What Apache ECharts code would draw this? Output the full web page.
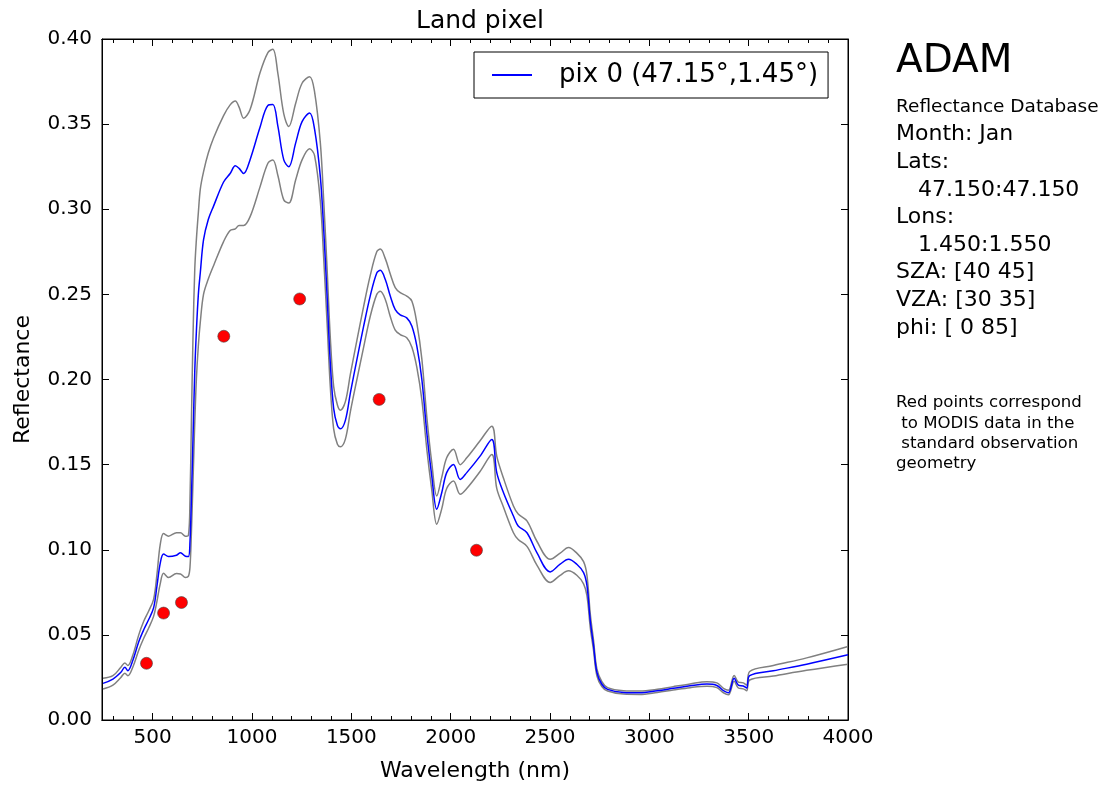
<!DOCTYPE html>
<html>
<head>
<meta charset="utf-8">
<script src="https://cdn.jsdelivr.net/npm/echarts@6/dist/echarts.min.js"></script>
<style>
html,body{margin:0;padding:0;background:#fff;}
#chart{width:1101px;height:787px;}
</style>
</head>
<body>
<div id="chart"></div>
<script>
// ---- data ----
const wavelength = [250,300,340,360,375,400,430,455,480,505,522,538,555,580,620,640,665,680,688,695,703,712,720,730,740,756,780,807,857,890,916,935,958,990,1040,1080,1105,1130,1160,1185,1220,1252,1290,1315,1344,1361,1378,1394,1411,1430,1445,1470,1495,1528,1562,1595,1628,1646,1671,1696,1721,1746,1779,1805,1830,1855,1880,1905,1930,1955,1980,2014,2048,2081,2148,2207,2232,2266,2316,2340,2384,2434,2501,2551,2593,2635,2669,2686,2703,2719,2736,2761,2790,2870,2950,3040,3120,3205,3290,3340,3373,3398,3427,3448,3473,3490,3505,3624,3792,4000];
const meanRefl = [0.0215,0.024,0.028,0.031,0.029,0.035,0.046,0.053,0.059,0.066,0.079,0.092,0.0975,0.096,0.0968,0.0983,0.0962,0.096,0.105,0.13,0.165,0.205,0.228,0.25,0.263,0.282,0.294,0.302,0.316,0.321,0.3255,0.324,0.321,0.329,0.348,0.361,0.3615,0.349,0.329,0.325,0.339,0.3515,0.3565,0.347,0.319,0.288,0.249,0.21,0.183,0.173,0.171,0.176,0.192,0.2117,0.2313,0.249,0.2626,0.2641,0.2587,0.249,0.241,0.238,0.2362,0.2313,0.2195,0.2,0.1687,0.1433,0.1238,0.1335,0.1453,0.1501,0.1413,0.1453,0.155,0.1648,0.1453,0.1335,0.1198,0.114,0.110,0.0983,0.087,0.0915,0.0944,0.0915,0.0866,0.079,0.058,0.044,0.028,0.021,0.018,0.0162,0.016,0.0172,0.0186,0.0201,0.0211,0.0203,0.0172,0.016,0.0245,0.0205,0.02,0.0188,0.026,0.0289,0.0328,0.0383];
const upperRefl = [0.0245,0.026,0.031,0.0335,0.032,0.038,0.050,0.058,0.064,0.071,0.086,0.103,0.1095,0.108,0.110,0.110,0.108,0.1085,0.13,0.175,0.225,0.265,0.282,0.298,0.312,0.322,0.333,0.342,0.355,0.3613,0.3636,0.360,0.3535,0.3584,0.380,0.392,0.394,0.380,0.356,0.3486,0.3623,0.374,0.3779,0.369,0.339,0.305,0.265,0.225,0.196,0.185,0.182,0.187,0.203,0.223,0.243,0.261,0.275,0.2766,0.271,0.262,0.254,0.251,0.249,0.246,0.233,0.212,0.178,0.151,0.1316,0.1425,0.154,0.159,0.150,0.154,0.164,0.1726,0.155,0.142,0.1257,0.121,0.117,0.105,0.0944,0.098,0.1013,0.098,0.093,0.085,0.062,0.047,0.030,0.0225,0.019,0.0172,0.017,0.018,0.0196,0.0212,0.0225,0.0218,0.0186,0.0175,0.0262,0.0222,0.0218,0.0205,0.0285,0.032,0.0365,0.0432];
const lowerRefl = [0.0182,0.0205,0.025,0.0275,0.026,0.031,0.041,0.048,0.054,0.061,0.070,0.080,0.0862,0.0837,0.086,0.0858,0.0837,0.0845,0.090,0.11,0.14,0.175,0.20,0.22,0.234,0.25,0.259,0.267,0.281,0.2875,0.2885,0.2905,0.2905,0.2955,0.313,0.327,0.329,0.320,0.3055,0.3036,0.3173,0.329,0.3355,0.3315,0.3045,0.271,0.233,0.196,0.171,0.162,0.1605,0.165,0.181,0.200,0.219,0.237,0.250,0.2518,0.247,0.237,0.229,0.2264,0.2245,0.219,0.207,0.188,0.159,0.135,0.115,0.124,0.136,0.1404,0.1326,0.136,0.146,0.156,0.136,0.125,0.110,0.106,0.102,0.091,0.0808,0.085,0.0876,0.085,0.080,0.073,0.054,0.041,0.026,0.0197,0.017,0.0152,0.015,0.0162,0.0176,0.019,0.0198,0.019,0.016,0.0148,0.0228,0.0188,0.0183,0.0172,0.0235,0.0258,0.0292,0.0328];
const modisWavelength = [469,555,645,858,1240,1640,2130];
const modisRefl = [0.0333,0.0628,0.069,0.2254,0.2473,0.1883,0.0997];
const xMajorTicks = [500,1000,1500,2000,2500,3000,3500,4000];
const xMinorTicks = [300,400,600,700,800,900,1100,1200,1300,1400,1600,1700,1800,1900,2100,2200,2300,2400,2600,2700,2800,2900,3100,3200,3300,3400,3600,3700,3800,3900];
const yTicks = [0,0.05,0.10,0.15,0.20,0.25,0.30,0.35,0.40];
const seriesName = 'pix 0 (47.15°,1.45°)';
const titleText = 'Land pixel';
const xName = 'Wavelength (nm)';
const yName = 'Reflectance';
const headerText = 'ADAM';
const infoLines = [
  ['Reflectance Database', 0, 18.5],
  ['Month: Jan', 0, 22],
  ['Lats:', 0, 22],
  ['47.150:47.150', 1, 22],
  ['Lons:', 0, 22],
  ['1.450:1.550', 1, 22],
  ['SZA: [40 45]', 0, 22],
  ['VZA: [30 35]', 0, 22],
  ['phi: [ 0 85]', 0, 22]
];
const noteLines = ['Red points correspond', ' to MODIS data in the', ' standard observation', 'geometry'];

// ---- build ----
const zip = (xs, ys) => xs.map((x, i) => [x, ys[i]]);
const FONT = 'DejaVu Sans';
const X_MIN = 245, X_MAX = 4000;

const chart = echarts.init(document.getElementById('chart'), null, {renderer: 'canvas'});

function xAxisDef(pos, ticks, len, labels) {
  return {
    type: 'value', position: pos, min: X_MIN, max: X_MAX,
    gridIndex: 0,
    axisLine: {show: true, onZero: false, lineStyle: {color: '#000', width: 1}},
    axisTick: {show: true, inside: true, length: len, customValues: ticks, lineStyle: {color: '#000', width: 1}},
    axisLabel: labels ? {show: true, customValues: xMajorTicks, formatter: v => String(v), fontSize: 20, color: '#000', fontFamily: FONT, margin: 8} : {show: false},
    splitLine: {show: false},
    name: labels ? xName : '',
    nameLocation: 'middle', nameGap: 40,
    nameTextStyle: {fontSize: 22, color: '#000', fontFamily: FONT}
  };
}
function yAxisDef(pos, labels) {
  return {
    type: 'value', position: pos, min: 0, max: 0.4, interval: 0.05,
    axisLine: {show: true, onZero: false, lineStyle: {color: '#000', width: 1}},
    axisTick: {show: true, inside: true, length: 7, customValues: yTicks, lineStyle: {color: '#000', width: 1}},
    axisLabel: labels ? {show: true, formatter: v => v.toFixed(2), fontSize: 20, color: '#000', fontFamily: FONT, margin: 10} : {show: false},
    splitLine: {show: false},
    name: labels ? yName : '',
    nameLocation: 'middle', nameGap: 68, nameRotate: 90,
    nameTextStyle: {fontSize: 22, color: '#000', fontFamily: FONT}
  };
}

const graphics = [];
graphics.push({type: 'text', x: 896, y: 62, style: {text: headerText, font: '39px "DejaVu Sans"', fill: '#000', verticalAlign: 'middle'}});
infoLines.forEach((ln, i) => {
  graphics.push({type: 'text', x: ln[1] ? 918 : 896, y: 107 + i * 27.6,
    style: {text: ln[0], font: ln[2] + 'px "DejaVu Sans"', fill: '#000', verticalAlign: 'middle'}});
});
noteLines.forEach((t, i) => {
  graphics.push({type: 'text', x: 896, y: 403 + i * 20.3,
    style: {text: t, font: '16.6px "DejaVu Sans"', fill: '#000', verticalAlign: 'middle'}});
});

const option = {
  backgroundColor: '#fff',
  animation: false,
  textStyle: {fontFamily: FONT},
  title: {text: titleText, left: 475, top: 4, textAlign: 'center',
    textStyle: {fontSize: 25, fontWeight: 'normal', color: '#000', fontFamily: FONT}},
  grid: {left: 102, right: 253, top: 39, bottom: 66, show: true, borderColor: '#000', borderWidth: 1, backgroundColor: '#fff'},
  legend: {
    data: [{name: seriesName, icon: 'rect'}],
    left: 474, top: 52, orient: 'vertical',
    itemWidth: 40, itemHeight: 2,
    padding: [10, 10, 10, 18],
    borderColor: '#000', borderWidth: 1, backgroundColor: '#fff',
    textStyle: {fontSize: 26, color: '#000', fontFamily: FONT, padding: [0, 0, 0, 22]},
    selectedMode: false
  },
  xAxis: [
    xAxisDef('bottom', xMajorTicks, 7, true),
    xAxisDef('bottom', xMinorTicks, 4, false),
    xAxisDef('top', xMajorTicks, 7, false),
    xAxisDef('top', xMinorTicks, 4, false)
  ],
  yAxis: [yAxisDef('left', true), yAxisDef('right', false)],
  graphic: graphics,
  series: [
    {type: 'line', name: 'upper', data: zip(wavelength, upperRefl), showSymbol: false, smooth: 0.35,
      lineStyle: {color: '#808080', width: 1.5}, itemStyle: {color: '#808080'}, z: 2, silent: true},
    {type: 'line', name: 'lower', data: zip(wavelength, lowerRefl), showSymbol: false, smooth: 0.35,
      lineStyle: {color: '#808080', width: 1.5}, itemStyle: {color: '#808080'}, z: 2, silent: true},
    {type: 'line', name: seriesName, data: zip(wavelength, meanRefl), showSymbol: false, smooth: 0.35,
      lineStyle: {color: '#0000ff', width: 1.5}, itemStyle: {color: '#0000ff'}, z: 3, silent: true},
    {type: 'scatter', name: 'MODIS', data: zip(modisWavelength, modisRefl), symbol: 'circle', symbolSize: 12,
      itemStyle: {color: '#ff0000', borderColor: '#444', borderWidth: 0.6, opacity: 1}, z: 4, silent: true}
  ]
};
chart.setOption(option);
</script>
</body>
</html>
